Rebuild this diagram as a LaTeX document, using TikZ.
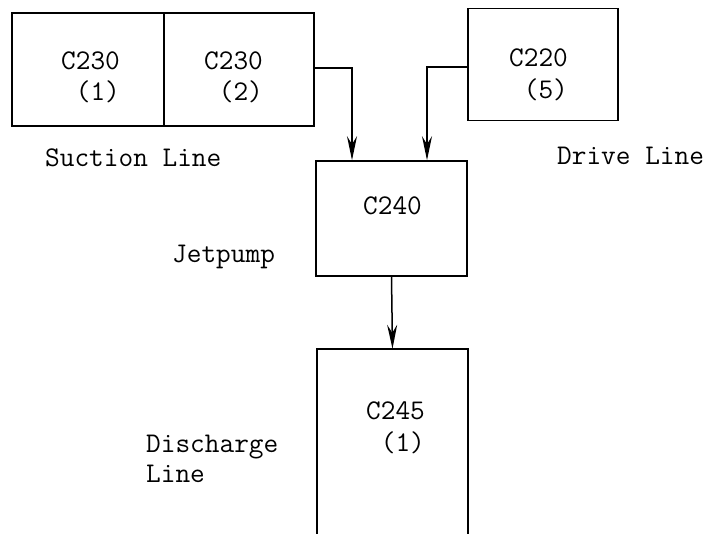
\documentclass[tikz,border=0pt]{standalone}
\usepackage{fontspec}
\usetikzlibrary{arrows.meta}
\begin{document}
\begin{tikzpicture}[x=1pt,y=-1pt,
  box/.style={draw, line width=1.6pt, inner sep=0pt},
  wire/.style={line width=1.5pt, -{Stealth[length=24pt,width=10pt,inset=8pt]}},
  side/.style={line width=1.6pt},
  lbl/.style={anchor=base west, inner sep=0pt, font=\ttfamily\fontsize{28.5}{34}\selectfont}]
\useasboundingbox[fill=white] (0,0) rectangle (721,534);
% boxes
\node[box, minimum width=152pt, minimum height=113pt] (c2301) at (88,69.5) {};
\node[box, minimum width=150pt, minimum height=113pt] (c2302) at (239,69.5) {};
\node[box, minimum width=150pt, minimum height=112pt] (c220) at (543,64.5) {};
\node[box, minimum width=151pt, minimum height=115pt] (c240) at (391.5,218.5) {};
\node[inner sep=0pt, minimum width=151pt, minimum height=185pt] (c245) at (392.5,441.5) {};
\draw[side] (c245.south west) -- (c245.north west) -- (c245.north east) -- (c245.south east);
% texts in boxes
\node[lbl] (t1a) at (61,70) {C230};
\node[lbl] (t1b) at (61,101) {\phantom{0}(1)};
\node[lbl] (t2a) at (204,70) {C230};
\node[lbl] (t2b) at (204,101) {\phantom{0}(2)};
\node[lbl] (t5a) at (509,67) {C220};
\node[lbl] (t5b) at (509,99) {\phantom{0}(5)};
\node[lbl] (t4a) at (363,215) {C240};
\node[lbl] (t6a) at (366,420) {C245};
\node[lbl] (t6b) at (366,452) {\phantom{0}(1)};
% side labels
\node[lbl] (suction) at (45,167) {Suction Line};
\node[lbl] (drive) at (557,165) {Drive Line};
\node[lbl] (jet) at (172,263) {Jetpump};
\node[lbl] (dis1) at (146,453) {Discharge};
\node[lbl] (dis2) at (146,483) {Line};
% connectors
\draw[wire] ([yshift=1.5pt]c2302.east) -| ([xshift=-39.5pt]c240.north);
\draw[wire] ([yshift=-2.5pt]c220.west) -| ([xshift=35.5pt]c240.north);
\draw[wire] (c240.south) -- (c245.north);
\end{tikzpicture}
\end{document}
